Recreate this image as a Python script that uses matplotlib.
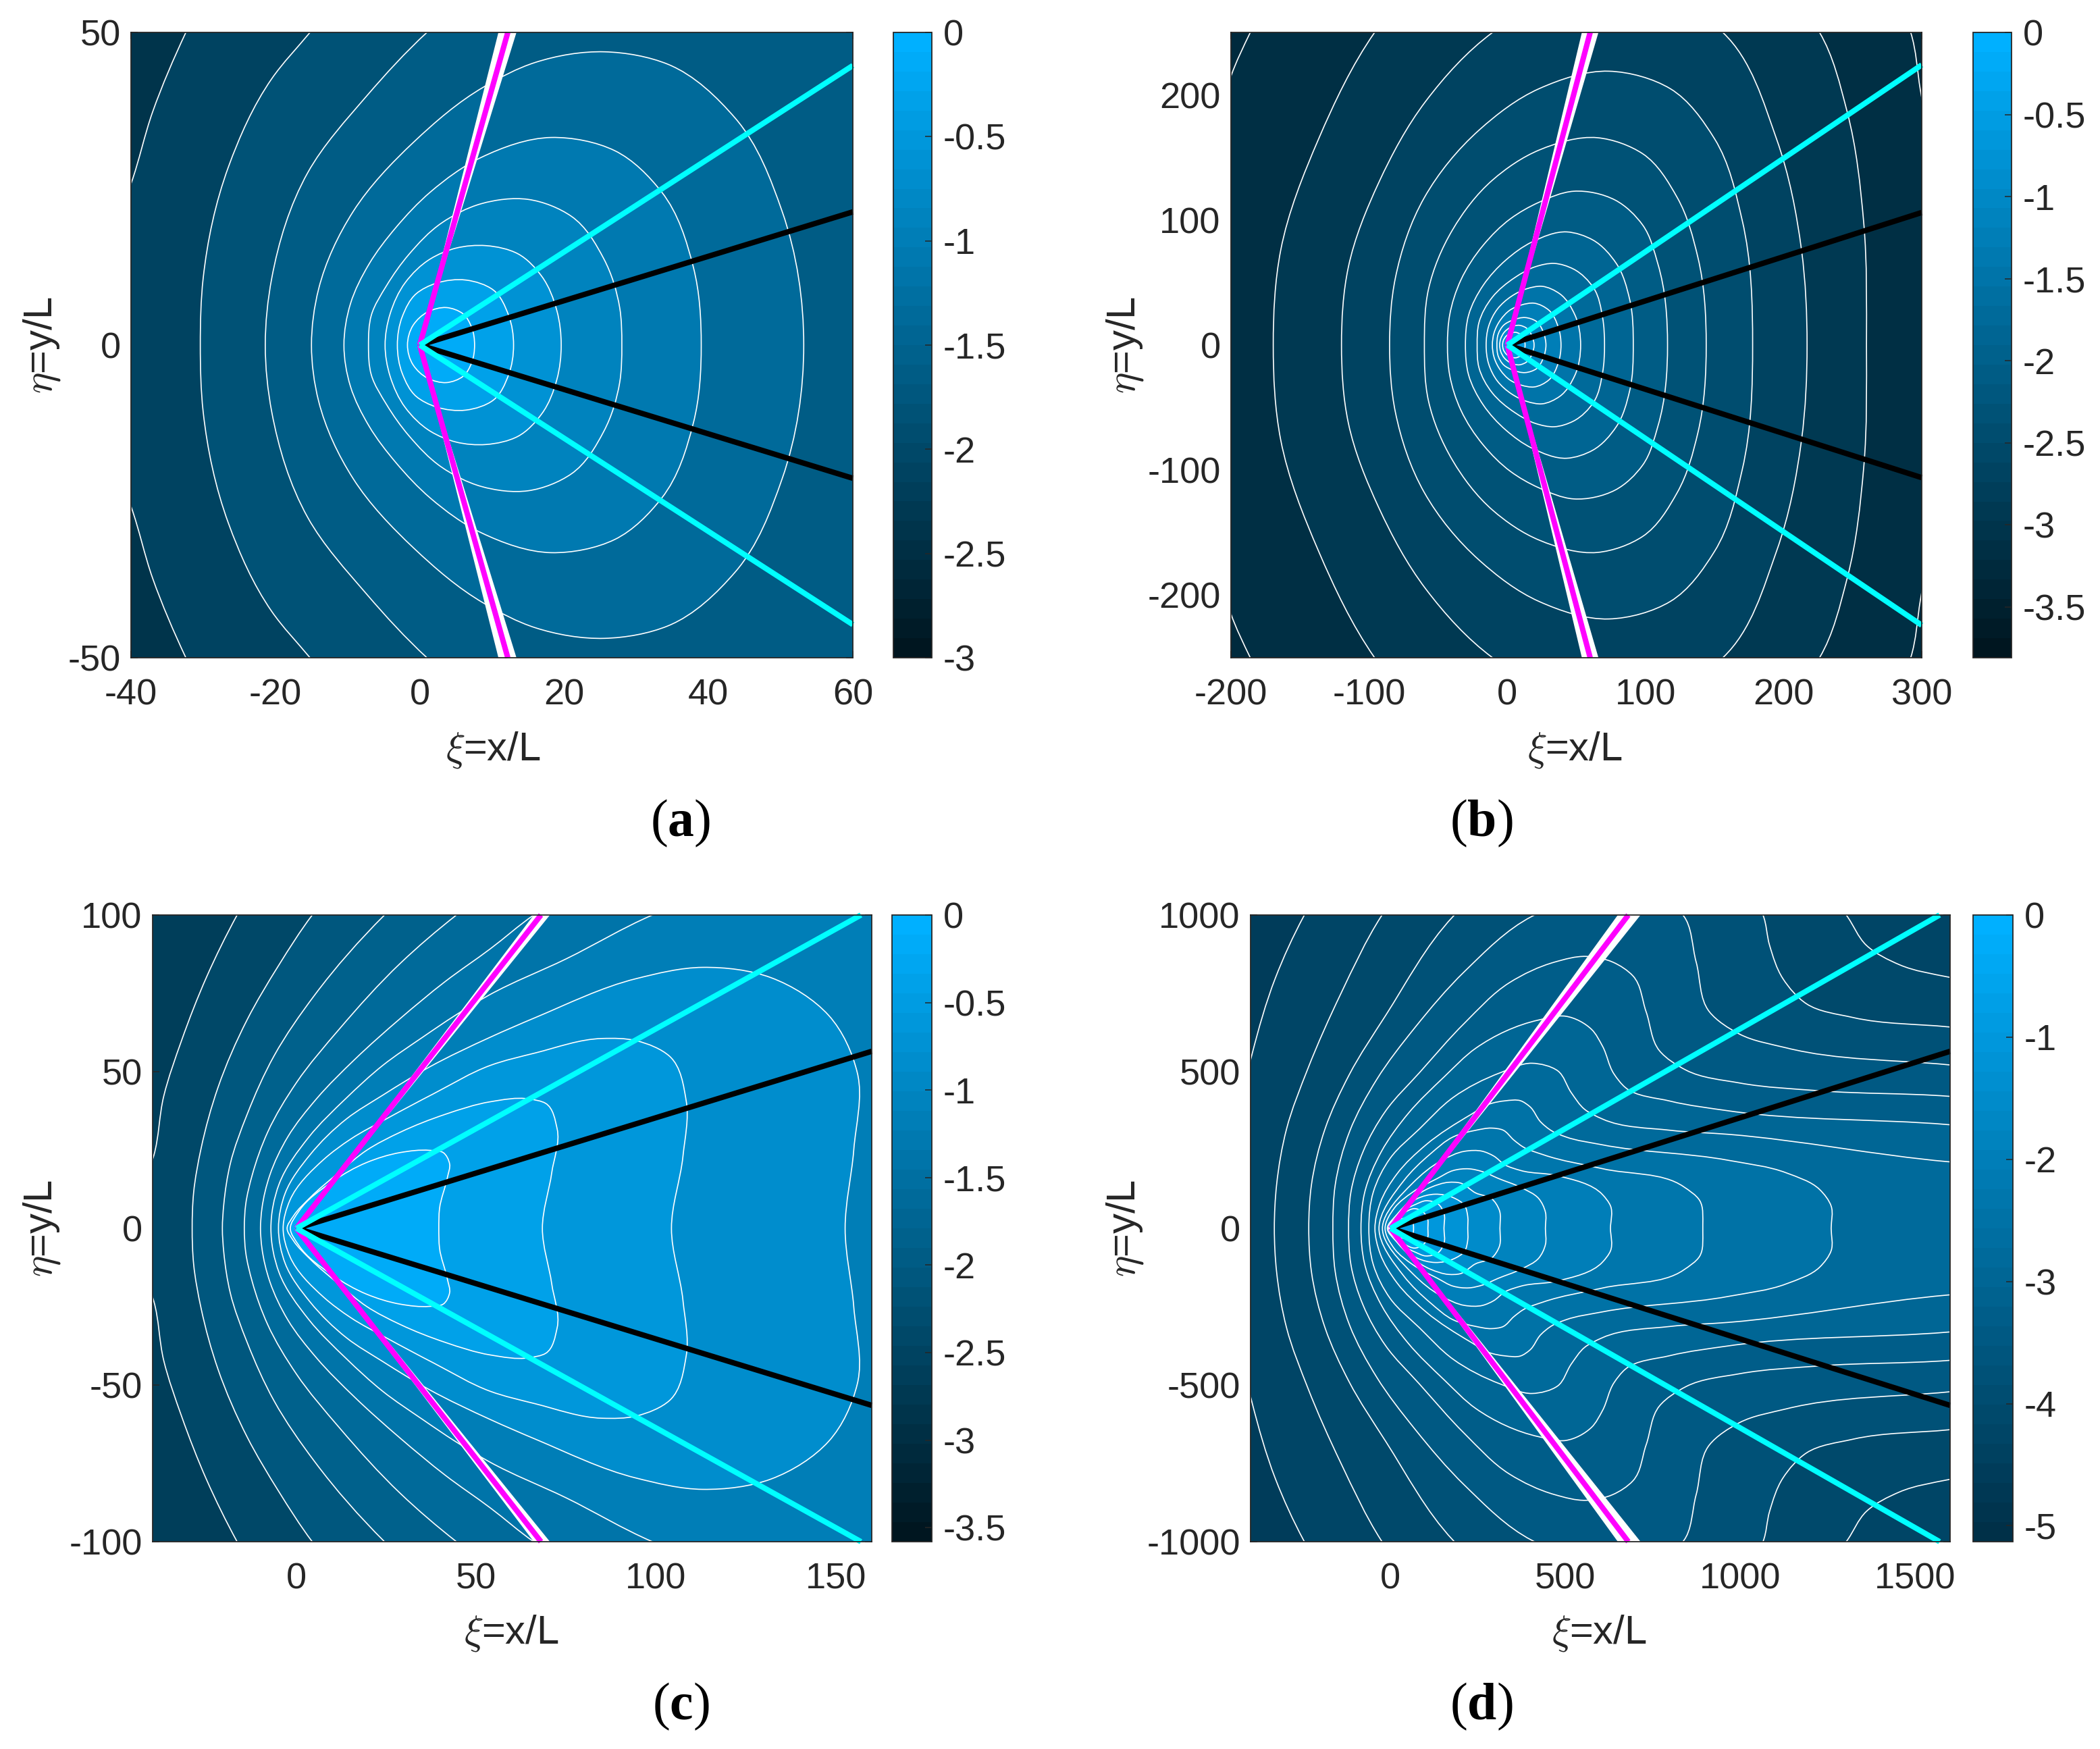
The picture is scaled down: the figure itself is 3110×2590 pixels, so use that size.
import numpy as np
import matplotlib
matplotlib.use('Agg')
import matplotlib.pyplot as plt
from matplotlib.path import Path
from matplotlib.patches import PathPatch
from matplotlib.colors import LinearSegmentedColormap, Normalize
from matplotlib.cm import ScalarMappable

plt.rcParams['font.family'] = ['Liberation Sans', 'DejaVu Sans']
plt.rcParams['axes.unicode_minus'] = False
plt.rcParams['mathtext.fontset'] = 'custom'
plt.rcParams['mathtext.bf'] = 'Liberation Serif:bold'
plt.rcParams['mathtext.rm'] = 'Liberation Serif'

# Contours are upper halves, outermost first (mirrored in y=0)
# Panel a
a_levels = [-2.25, -2.0, -1.75, -1.5, -1.25, -1.0, -0.75, -0.5, -0.25]
a_contours = [
    [(-47, 0), (-46, 10), (-40, 25.8), (-37, 37.3), (-32.4, 50), (-27, 62), (0, 90), (80, 90), (90, 0)],
    [(-30.4, 0), (-30, 10.7), (-26.5, 28.5), (-20.5, 42.6), (-15.2, 50), (-8, 60), (20, 75), (80, 75), (85, 0)],
    [(-21.4, 0), (-20.5, 10.7), (-15.5, 27.6), (-7.3, 39.9), (1, 50), (12, 60), (30, 65), (75, 65), (80, 0)],
    [(-15, 0), (-14, 9), (-9.2, 21.4), (-0.8, 32.5), (8.9, 41.3), (16, 45.2), (25.6, 46.9),
     (34.4, 44.9), (43.7, 36.3), (50.2, 21.4), (53.2, 0)],
    [(-10.5, 0), (-9.6, 6.6), (-7, 13), (-3.3, 18.8), (1.5, 24.5), (8.5, 30), (18.2, 33.2),
     (27, 31.1), (33.5, 24.5), (37.9, 12.5), (39, 0)],
    [(-7.1, 0), (-6.7, 4.8), (-4.6, 9.5), (-1.5, 14.5), (3, 19.5), (8.5, 22.6), (15, 23.3),
     (21, 20.6), (25.5, 13.8), (27.7, 6), (28, 0)],
    [(-4.8, 0), (-4.1, 5), (-2, 10), (1.5, 13.8), (5, 15.5), (9.2, 15.9), (13.6, 14.6), (16.9, 11),
     (19, 5.5), (19.6, 0)],
    [(-3.1, 0), (-2.4, 4.6), (-0.5, 8.2), (2.3, 9.9), (6.4, 10.4), (10.2, 8.8), (12.3, 4.8), (13, 0)],
    [(-1.7, 0), (-0.9, 3.2), (1.1, 5.3), (3.7, 6), (6, 5), (7.2, 2.8), (7.6, 0)],
]
a_ray_magenta = (12.2, 50)
a_ray_white = [(10.9, 50), (13.4, 50)]
a_ray_cyan = (60, 44.7)
a_ray_black = (60, 21.3)
a_xticks = [-40, -20, 0, 20, 40, 60]
a_yticks = [-50, 0, 50]
a_cticks = [-3, -2.5, -2, -1.5, -1, -0.5, 0]

# Panel b
b_levels = [-3.2, -3.0, -2.8, -2.6, -2.4, -2.2, -2.0, -1.8, -1.6, -1.4, -1.2, -1.0, -0.8]
b_contours = [
    [(-230, 0), (-225, 80), (-210, 170), (-200, 215), (-186, 250), (-150, 320), (0, 400), (200, 360), (292, 250),
     (299, 204), (315, 100), (320, 0)],
    [(-169.4, 0), (-164, 75.8), (-136.5, 165), (-96, 250), (-40, 320), (100, 340), (226, 250), (246, 186.6),
     (258, 98), (260, 0)],
    [(-120, 0), (-115, 62.5), (-93, 130), (-59, 195), (-10.6, 250), (47, 284), (105, 284), (156, 250),
     (195, 164.5), (213, 75.8), (217, 0)],
    [(-85.2, 0), (-81, 53.6), (-60, 118), (-20.3, 172), (23, 205), (73.6, 219), (118, 205),
     (150, 165), (170, 100), (177.6, 0)],
    [(-60, 0), (-57, 44.8), (-39.7, 92), (-10.6, 132), (23.2, 156), (65.3, 165.8), (98, 153),
     (123, 118), (138, 70), (144, 0)],
    [(-43.3, 0), (-41.7, 23.9), (-33.6, 52), (-17.3, 80), (2.3, 101), (22.6, 114), (48, 123), (78, 116),
     (98, 96), (109, 65), (116, 0)],
    [(-30.3, 0), (-28, 23.9), (-17.3, 48), (-1, 68), (17.8, 82.4), (43, 90.5), (62, 84),
     (78.9, 65.3), (88.6, 36.5), (91.2, 0)],
    [(-21.8, 0), (-20.5, 18), (-10.8, 38.3), (5.5, 54), (20.2, 62.6), (34, 65.3), (47.9, 60.8), (62.6, 45.5),
     (69, 22), (70.4, 0)],
    [(-15.3, 0), (-13.5, 15), (-7, 29), (3, 39), (14, 45), (25, 47), (38, 41), (49, 24), (53.1, 0)],
    [(-10.8, 0), (-9.5, 10), (-5, 20), (2, 28), (10, 32), (19.4, 33.5), (30, 28), (37, 14), (38.9, 0)],
    [(-7.5, 0), (-6.5, 9), (-2.5, 16), (4, 20), (13, 22), (21, 19), (26.5, 9), (28, 0)],
    [(-5.5, 0), (-4.8, 5), (-2, 10.5), (2, 14), (8.8, 15.8), (14, 13.5), (18, 7), (19.4, 0)],
    [(-3.4, 0), (-2.9, 3.5), (-0.5, 7.5), (3, 9.7), (6, 10.2), (9, 9), (12, 5), (12.9, 0)],
]
b_ray_magenta = (60, 250)
b_ray_white = [(54, 250), (66, 250)]
b_ray_cyan = (300, 224)
b_ray_black = (300, 106)
b_xticks = [-200, -100, 0, 100, 200, 300]
b_yticks = [-200, -100, 0, 100, 200]
b_cticks = [-3.5, -3, -2.5, -2, -1.5, -1, -0.5, 0]

# Panel c
c_levels = [-2.5, -2.25, -2.0, -1.75, -1.5, -1.25, -1.0, -0.75, -0.5, -0.25]
c_contours = [
    [(-46, 0), (-44, 10), (-39.7, 23.1), (-36.9, 42.2), (-31.9, 60.1), (-25, 80.2), (-16.5, 100), (0, 130),
     (100, 160), (200, 150), (220, 0)],
    [(-29, 0), (-28.6, 11.3), (-26.5, 25.6), (-21.8, 45), (-13.7, 66.6), (-4.9, 84), (4.4, 100), (30, 130),
     (100, 150), (200, 140), (215, 0)],
    [(-20.6, 0), (-20.2, 7.7), (-18.4, 20.6), (-13.7, 36.4), (-6.2, 55.1), (5.1, 74.5), (24.5, 100), (50, 125),
     (100, 140), (200, 130), (210, 0)],
    [(-14.5, 0), (-14.1, 7.7), (-12.3, 17), (-8, 30.7), (0, 46.5), (12, 63.7), (28.9, 84.6), (44.5, 100), (70, 120),
     (100, 130), (200, 125), (205, 0)],
    [(-10, 0), (-9.6, 6.3), (-7.4, 17), (-2.4, 29.2), (5.7, 41.5), (16.3, 54), (28.9, 67), (41.4, 78.8),
     (53.9, 89.2), (66, 100), (90, 115), (190, 120), (200, 0)],
    [(-7.1, 0), (-4.8, 14.2), (3.5, 29.2), (13.8, 41.5), (24, 52), (35.1, 61), (44.2, 68), (53.5, 74.4),
     (75, 86), (99, 100), (130, 112), (185, 110), (195, 0)],
    [(-5, 0), (-3.1, 11.3), (3.8, 23.5), (14, 35), (24, 42.5), (37, 51.5), (53.9, 61),
     (66.5, 67.3), (94.5, 79.7), (113, 83.3), (132, 80), (148, 68), (156, 49.6), (155, 25), (152.6, 0)],
    [(-3.7, 0), (-1.8, 9), (7.6, 22), (15.1, 28.5), (25.1, 35), (38.2, 43), (53.9, 52), (66.5, 56),
     (85, 60.6), (94.5, 59.9), (103.8, 54.9), (108.4, 40.7), (107.5, 23), (104.3, 0)],
    [(-2.6, 0), (-0.8, 4), (3.8, 9.8), (12, 18), (19.5, 24.9), (28.9, 30.7), (41.4, 36.4), (53.9, 40.4),
     (64.7, 41.3), (69.3, 39.9), (72.5, 31.8), (71, 17.7), (68.4, 0)],
    [(-1.7, 0), (0.7, 5.5), (10.1, 15), (19.5, 21), (28.9, 24.2), (37, 24.9), (40.8, 24.2), (42.6, 20.6),
     (42, 16.3), (39.8, 6.3), (39.6, 0)],
]
c_ray_magenta = (68, 100)
c_ray_white = [(66, 100), (70.5, 100)]
c_ray_cyan = (157, 100)
c_ray_black = (160, 56.5)
c_xticks = [0, 50, 100, 150]
c_yticks = [-100, -50, 0, 50, 100]
c_cticks = [-3.5, -3, -2.5, -2, -1.5, -1, -0.5, 0]

# Panel d
d_levels = [-4.4, -4.15, -3.9, -3.65, -3.4, -3.15, -2.9, -2.65, -2.4, -2.15, -1.9, -1.65, -1.4, -1.15, -0.9, -0.65]
d_contours = [
    [(-470, 0), (-450, 250), (-396, 554.6), (-329, 799), (-248, 996), (-100, 1250), (1000, 1500), (2000, 1300), (2100, 0)],
    [(-332, 0), (-325.6, 138), (-297, 317.5), (-236, 510), (-142, 748.6), (-26.4, 996), (200, 1300), (800, 1350),
     (1303, 1000), (1361, 903), (1456, 841), (1595, 802), (1800, 770), (1900, 0)],
    [(-233.6, 0), (-226, 138), (-187, 317.5), (-118, 490), (-13.5, 680), (179.5, 996), (400, 1200), (800, 1200),
     (1065, 1000), (1084, 903), (1122, 797), (1189, 717), (1322, 673), (1595, 643), (1800, 620), (1900, 0)],
    [(-164.7, 0), (-158, 138), (-116.5, 310), (-39, 475.6), (70, 640.8), (212, 820), (405, 996), (620, 1070),
     (836, 1000), (874, 850), (912, 691), (998, 620), (1132, 576), (1595, 522), (1800, 500), (1900, 0)],
    [(-119.7, 0), (-113, 116), (-78, 245.7), (-13.5, 375), (83, 497), (211.7, 655), (340, 784), (470, 850), (559, 868),
     (635, 850), (693, 806), (731, 691), (769, 567), (845, 505), (998, 464), (1227, 439), (1595, 421.6), (1800, 400),
     (1900, 0)],
    [(-84.3, 0), (-74, 113), (-26, 245), (51, 367), (154, 484), (244, 575), (424, 665), (501, 677), (575, 635),
     (606, 582), (639, 493), (671, 450), (800, 406), (967, 375), (1595, 331), (1800, 310), (1900, 0)],
    [(-61.8, 0), (-49, 116), (-0.6, 224), (83, 317.5), (179.5, 418), (314.7, 497), (404.8, 527), (478, 503), (517, 433),
     (555, 380), (606, 349), (800, 313), (967, 300), (1595, 212.6), (1800, 195), (1900, 0)],
    [(-44.4, 0), (-29.6, 80.5), (18.7, 173.9), (102, 267), (231, 364), (282.5, 396.6), (327.5, 407), (372.6, 407),
     (398, 389), (430, 339), (462.7, 310), (501, 292), (604, 267), (967, 217), (1132, 177), (1227, 124), (1260, 71),
     (1260, 0)],
    [(-32.8, 0), (38, 152), (115, 238.5), (179.5, 292), (244, 313), (289, 320), (321, 314), (353, 281.6), (379, 260),
     (437, 235), (606, 190.5), (838, 133), (884, 89), (893, 10), (893, 0)],
    [(-23, 0), (64, 145), (147, 217), (212, 246), (263, 246), (295, 231), (327.5, 202.6), (372.6, 184.6), (478, 168),
     (606, 108), (629, 72), (629, 0)],
    [(-15.4, 0), (12, 66), (64, 116), (134.5, 159.5), (179.5, 184.6), (224.6, 190), (263, 181), (308, 159.5),
     (372.6, 130.7), (424, 95), (443, 52), (443, 0)],
    [(-9, 0), (18.7, 44.5), (115, 130.7), (166.7, 147), (198.8, 145), (244, 112.8), (289, 95), (311, 59), (313, 0)],
    [(-6, 0), (25, 44.5), (76.6, 95), (128, 109), (179.5, 98), (212, 73), (221, 37), (221, 0)],
    [(-4, 0), (15, 28), (40, 58), (73, 77), (100, 88), (137, 77), (152.5, 50), (153, 0)],
    [(-2.5, 0), (15, 22), (40, 50), (70, 63), (90, 55), (105, 35), (107, 0)],
    [(-1.5, 0), (10, 14), (30, 30), (50, 30), (63, 20), (66, 0)],
]
d_ray_magenta = (680, 1000)
d_ray_white = [(650, 1000), (715, 1000)]
d_ray_cyan = (1570, 1000)
d_ray_black = (1600, 565)
d_xticks = [0, 500, 1000, 1500]
d_yticks = [-1000, -500, 0, 500, 1000]
d_cticks = [-5, -4, -3, -2, -1, 0]

W, H = 3110, 2590
DARK = '#262626'
TOP_COLOR = (0, 176 / 255, 1)


def make_path(half):
    # closed smooth curve through the read points, mirrored about y=0
    pts = list(half) + [(x, -y) for x, y in reversed(half[1:-1])]
    p = np.array(pts, dtype=float)
    n = len(p)
    prev = p - np.roll(p, 1, axis=0)
    nxt = np.roll(p, -1, axis=0) - p
    d0 = np.hypot(prev[:, 0], prev[:, 1])[:, None]
    d1 = np.hypot(nxt[:, 0], nxt[:, 1])[:, None]
    # chord-weighted tangents, so uneven spacing of the points does not kink the curve
    tang = (prev / d0 * d1 + nxt / d1 * d0) / (d0 + d1)
    verts = [p[0]]
    codes = [Path.MOVETO]
    for i in range(n):
        j = (i + 1) % n
        seg = d1[i, 0]
        verts += [p[i] + tang[i] * seg / 3, p[j] - tang[j] * seg / 3, p[j]]
        codes += [Path.CURVE4] * 3
    return Path(np.array(verts), codes)


def px_axes(x0, x1, y0, y1):
    return fig.add_axes([x0 / W, 1 - y1 / H, (x1 - x0) / W, (y1 - y0) / H])


def panel(box, cbox, xlim, ylim, levels, contours, magenta, white, cyan, black, xticks, yticks, cticks, clim, low_color, step):
    ax = px_axes(*box)
    cmap = LinearSegmentedColormap.from_list('flow', [low_color, TOP_COLOR], N=32)
    norm = Normalize(clim, 0)
    ax.set_facecolor(cmap(norm(levels[0] - step / 2)))
    for level, half in zip(levels, contours):
        ax.add_patch(PathPatch(make_path(half), facecolor=cmap(norm(level + step / 2)),
                               edgecolor='white', lw=1.2, zorder=2))
    # rays from the origin
    for s in (1, -1):
        ax.fill([0, white[0][0], white[1][0]], [0, s * white[0][1], s * white[1][1]], color='white', lw=0, zorder=3)
        ax.plot([0, magenta[0]], [0, s * magenta[1]], color='#ff00ff', lw=5.8, zorder=4, solid_capstyle='butt', clip_on=False)
        ax.plot([0, black[0]], [0, s * black[1]], color='black', lw=5.8, zorder=5, solid_capstyle='butt', clip_on=False)
        ax.plot([0, cyan[0]], [0, s * cyan[1]], color='#00ffff', lw=5.8, zorder=6, solid_capstyle='butt', clip_on=False)
    ax.set_xlim(xlim)
    ax.set_ylim(ylim)
    ax.set_xticks(xticks)
    ax.set_yticks(yticks)
    ax.tick_params(direction='in', length=7, width=1.1, color=DARK, labelcolor=DARK, labelsize=FS,
                   top=True, right=True, pad=11)
    ax.tick_params(axis='x', pad=22)
    for sp in ax.spines.values():
        sp.set_color(DARK)
        sp.set_linewidth(1.3)
        sp.set_zorder(8)

    cax = px_axes(*cbox)
    cb = fig.colorbar(ScalarMappable(norm=norm, cmap=cmap), cax=cax, ticks=cticks)
    cb.ax.set_yticklabels([f'{t:g}' for t in cticks])
    cb.ax.tick_params(direction='in', length=7, width=1.1, color=DARK, labelcolor=DARK, labelsize=FS, pad=12)
    cb.outline.set_edgecolor(DARK)
    cb.outline.set_linewidth(1.3)
    return ax


FS = 39
fig = plt.figure(figsize=(W / 100, H / 100), dpi=100)

LOW = (0, 22 / 255, 32 / 255)
panel((194, 1263, 48, 974), (1323, 1380, 48, 974), (-40, 60), (-50, 50), a_levels, a_contours, a_ray_magenta,
      a_ray_white, a_ray_cyan, a_ray_black, a_xticks, a_yticks, a_cticks, -3, LOW, 0.25)
panel((1823, 2846, 48, 974), (2922, 2979, 48, 974), (-200, 300), (-250, 250), b_levels, b_contours, b_ray_magenta,
      b_ray_white, b_ray_cyan, b_ray_black, b_xticks, b_yticks, b_cticks, -3.81, LOW, 0.2)
panel((226, 1291, 1355, 2283), (1321, 1380, 1355, 2283), (-40, 160), (-100, 100), c_levels, c_contours, c_ray_magenta,
      c_ray_white, c_ray_cyan, c_ray_black, c_xticks, c_yticks, c_cticks, -3.58, LOW, 0.25)
panel((1852, 2888, 1355, 2283), (2922, 2981, 1355, 2283), (-400, 1600), (-1000, 1000), d_levels, d_contours, d_ray_magenta,
      d_ray_white, d_ray_cyan, d_ray_black, d_xticks, d_yticks, d_cticks, -5.13, (0, 48 / 255, 72 / 255), 0.25)

# axis labels and panel letters
xlabel_pos = [(730, 1111), (2332, 1111), (757, 2418), (2368, 2418)]
ylabel_pos = [(62, 511), (1666, 511), (62, 1819), (1666, 1819)]
letter_pos = [(1008, 1219), (2194, 1219), (1008, 2527), (2194, 2527)]
letters = ['a', 'b', 'c', 'd']
for (xx, xy), (yx, yy), (lx, ly), l in zip(xlabel_pos, ylabel_pos, letter_pos, letters):
    fig.text(xx / W, 1 - xy / H, r'$\xi$=x/L', ha='center', va='center', fontsize=43, color=DARK, math_fontfamily='cm')
    fig.text(yx / W, 1 - yy / H, r'$\eta$=y/L', ha='center', va='center', rotation=90, fontsize=43, color=DARK,
             math_fontfamily='cm')
    fig.text(lx / W, 1 - ly / H, r'($\mathbf{%s}$)' % l, ha='center', va='center', fontsize=56, color='black',
             family='Liberation Serif', math_fontfamily='custom')

fig.savefig('out.png', dpi=100)
